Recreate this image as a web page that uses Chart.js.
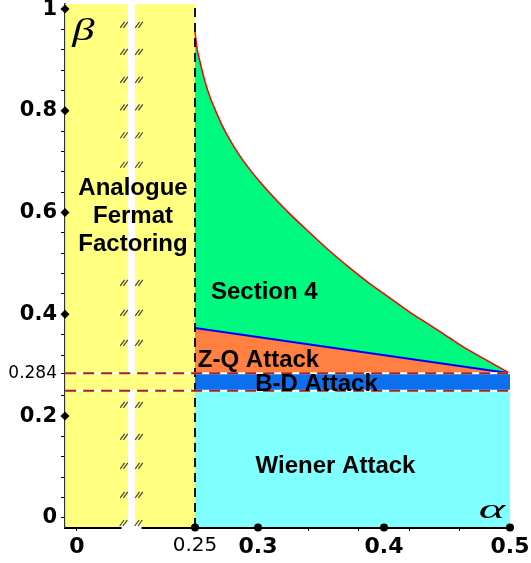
<!DOCTYPE html>
<html>
<head>
<meta charset="utf-8">
<script src="https://cdn.jsdelivr.net/npm/chart.js@4.4.0/dist/chart.umd.min.js"></script>
<style>
html,body{margin:0;padding:0;background:#fff;}
#caja{width:531px;height:563px;}
</style>
</head>
<body>
<div id="caja"><canvas id="grafica"></canvas></div>
<script>
// eje alfa partido: el tramo 0..0.25 va comprimido en la franja amarilla
let yTicksMain = [0, 0.2, 0.4, 0.6, 0.8, 1];
let yTickExtra = [0.284];
let xTicksMain = [0, 0.25, 0.3, 0.4, 0.5];
let xTicksMinor = [0.34, 0.38, 0.42, 0.46];

// frontera de la Section 4 (curva roja)
let curvaAlfa = [0.25, 0.2516, 0.254, 0.2579, 0.2619, 0.2667, 0.2722, 0.2786, 0.2857, 0.2937, 0.3016, 0.3095,
  0.3254, 0.3413, 0.3571, 0.373, 0.3889, 0.4048, 0.4206, 0.4365, 0.4524, 0.4683, 0.4841, 0.5];
let curvaBeta = [0.955, 0.923, 0.896, 0.858, 0.827, 0.798, 0.768, 0.739, 0.711, 0.684, 0.660, 0.638,
  0.597, 0.560, 0.524, 0.491, 0.460, 0.432, 0.404, 0.379, 0.353, 0.328, 0.306, 0.284];
// cota Z-Q (linea azul)
let zqAlfa = [0.25, 0.5];
let zqBeta = [0.373, 0.284];
let bdBeta = 0.284;
let wienerBeta = 0.25;
let ataqueAlfa = [0.25, 0.5];
let fermatAlfa = [-0.025, 0.25];
let lineasAlfa = [-0.025, 0.5];

let yMin = -0.018, yMax = 1.01;
let corte = 0.1155; // donde va el corte del eje
let marcasCorte = [0.969, 0.916, 0.861, 0.807, 0.752, 0.694, 0.462, 0.403, 0.344, 0.222, 0.159, 0.102, 0.045];

function toEje(a){
  return a >= 0.25 ? a : 0.1563 + a * 0.3748;
}
function puntos(xs, ys){
  return xs.map((a, i) => ({x: toEje(a), y: Array.isArray(ys) ? ys[i] : ys}));
}

let yTicksMinor = [];
for (let i = 1; i < 25; i++) {
  let v = Math.round(i * 4) / 100;
  if (i % 5 != 0 && v != 0.28) yTicksMinor.push(v);
}

function rayitas(ctx, x, y){
  ctx.beginPath();
  for (const d of [-1.6, 1.6]) {
    ctx.moveTo(x + d - 2.2, y + 3);
    ctx.lineTo(x + d + 2.2, y - 3);
  }
  ctx.stroke();
}

const extras = {
  id: 'extras',
  afterDatasetDraw(chart, args){
    if (args.index !== 9) return;
    const ctx = chart.ctx, a = chart.chartArea;
    const xs = chart.scales.x, ys = chart.scales.y;
    const xc = xs.getPixelForValue(toEje(corte));
    ctx.save();
    ctx.fillStyle = '#fff';
    ctx.fillRect(xc - 3.5, a.top, 7, ys.getPixelForValue(bdBeta) - a.top);
    ctx.fillRect(xc - 3.5, ys.getPixelForValue(wienerBeta), 7, a.bottom - ys.getPixelForValue(wienerBeta));
    ctx.strokeStyle = '#444';
    ctx.lineWidth = 1.2;
    marcasCorte.forEach(b => {
      const y = ys.getPixelForValue(b);
      rayitas(ctx, xc - 7.5, y);
      rayitas(ctx, xc + 7.5, y);
    });
    ctx.restore();
  },
  afterDraw(chart){
    const ctx = chart.ctx, a = chart.chartArea;
    const xs = chart.scales.x, ys = chart.scales.y;
    const X = v => xs.getPixelForValue(toEje(v));
    const Y = v => ys.getPixelForValue(v);
    ctx.save();
    // hueco del eje x
    const xc = X(corte);
    ctx.fillStyle = '#fff';
    ctx.fillRect(xc - 10, a.bottom - 3, 20, 7);
    ctx.strokeStyle = '#444';
    ctx.lineWidth = 1.2;
    rayitas(ctx, xc - 8, a.bottom - 4);
    rayitas(ctx, xc + 7, a.bottom - 4);
    // rombos del eje y
    ctx.fillStyle = '#000';
    yTicksMain.forEach(v => {
      if (v == 0) return;
      const y = Y(v), x = a.left;
      ctx.beginPath();
      ctx.moveTo(x - 4.5, y); ctx.lineTo(x, y - 4.5); ctx.lineTo(x + 4.5, y); ctx.lineTo(x, y + 4.5);
      ctx.closePath(); ctx.fill();
    });
    // puntos del eje x
    xTicksMain.forEach(v => {
      if (v == 0) return;
      ctx.beginPath();
      ctx.arc(X(v), a.bottom + 0.5, 4, 0, Math.PI * 2);
      ctx.fill();
    });
    // textos de las regiones
    ctx.textAlign = 'center';
    ctx.textBaseline = 'alphabetic';
    ctx.font = 'bold 24px "Liberation Sans", Arial, sans-serif';
    ctx.fillText('Analogue', X(0.1187), Y(0.635));
    ctx.fillText('Fermat', X(0.1187), Y(0.580));
    ctx.fillText('Factoring', X(0.1187), Y(0.525));
    ctx.fillText('Section 4', X(0.305), Y(0.430));
    ctx.fillText('Z-Q Attack', X(0.3004), Y(0.2967));
    ctx.fillText('B-D Attack', X(0.3464), Y(0.2495));
    ctx.fillText('Wiener Attack', X(0.3615), Y(0.0884));
    // letras griegas
    ctx.font = 'italic 32px "Liberation Serif", serif';
    ctx.save();
    ctx.translate(X(0.0138), Y(0.939));
    ctx.scale(1.4, 1);
    ctx.fillText('β', 0, 0);
    ctx.restore();
    ctx.font = 'italic 28px "Liberation Serif", serif';
    ctx.save();
    ctx.translate(X(0.4857), Y(0.0));
    ctx.scale(1.8, 1);
    ctx.fillText('α', 0, 0);
    ctx.restore();
    ctx.restore();
  }
};

let xTicksAll = xTicksMain.map(v => ({value: toEje(v), etiqueta: String(v)}))
  .concat(xTicksMinor.map(v => ({value: v, etiqueta: ''})));
let yTicksAll = yTicksMain.concat(yTickExtra, yTicksMinor).map(v => ({value: v}));

const fino = {pointRadius: 0, fill: false, tension: 0};

let ctx = document.getElementById('grafica').getContext('2d');
let chart = new Chart(ctx, {
  type: 'line',
  data: {
    datasets: [
      Object.assign({data: puntos(lineasAlfa, bdBeta), borderColor: '#a52020', borderWidth: 2, borderDash: [11, 7]}, fino),
      Object.assign({data: puntos(lineasAlfa, wienerBeta), borderColor: '#a52020', borderWidth: 2, borderDash: [11, 7]}, fino),
      Object.assign({data: puntos(lineasAlfa, bdBeta), borderColor: '#fff', borderWidth: 2}, fino),
      Object.assign({data: puntos(lineasAlfa, wienerBeta), borderColor: '#fff', borderWidth: 2}, fino),
      Object.assign({data: [{x: 0.25, y: yMin}, {x: 0.25, y: yMax}], borderColor: '#111', borderWidth: 2, borderDash: [9, 6]}, fino),
      {data: puntos(ataqueAlfa, wienerBeta), borderWidth: 0, pointRadius: 0, fill: 'start', backgroundColor: '#80ffff'},
      {data: puntos(ataqueAlfa, bdBeta), borderWidth: 0, pointRadius: 0, fill: 'start', backgroundColor: '#0a70f0'},
      {data: puntos(zqAlfa, zqBeta), borderColor: '#0000ff', borderWidth: 2, pointRadius: 0, fill: 'start', backgroundColor: '#ff8040'},
      {data: puntos(curvaAlfa, curvaBeta), borderColor: '#ff0000', borderWidth: 1.5, pointRadius: 0, fill: 'start', backgroundColor: '#00fa80', cubicInterpolationMode: 'monotone'},
      {data: puntos(fermatAlfa, yMax), borderWidth: 0, pointRadius: 0, fill: 'start', backgroundColor: '#ffff80'}
    ]
  },
  options: {
    responsive: true,
    maintainAspectRatio: false,
    animation: false,
    layout: {padding: {left: 0, right: 21, top: 4, bottom: 0}},
    plugins: {legend: {display: false}, tooltip: {enabled: false}},
    scales: {
      x: {
        type: 'linear', min: 0.1468, max: 0.5, z: 1,
        afterBuildTicks: s => { s.ticks = xTicksAll.map(t => Object.assign({}, t)); },
        afterFit: s => { s.height = 36; s.paddingLeft = 0; s.paddingRight = 0; },
        grid: {drawOnChartArea: false, tickLength: 4, color: '#000'},
        border: {color: '#000', width: 3},
        ticks: {
          autoSkip: false, maxRotation: 0, padding: 3, color: '#000',
          callback: (v, i, t) => t[i].etiqueta,
          font: c => (c.tick && c.tick.value === 0.25)
            ? {family: 'DejaVu Sans', size: 20, weight: 'normal'}
            : {family: 'DejaVu Sans', size: 22, weight: 'bold'}
        }
      },
      y: {
        type: 'linear', min: yMin, max: yMax, z: 1,
        afterBuildTicks: s => { s.ticks = yTicksAll.map(t => Object.assign({}, t)); },
        afterFit: s => { s.width = 65; s.paddingTop = 0; s.paddingBottom = 0; },
        grid: {drawOnChartArea: false, tickLength: 4, color: '#000'},
        border: {color: '#333', width: 1.5},
        ticks: {
          autoSkip: false, padding: 4, color: '#000',
          callback: v => (yTicksMain.includes(v) || yTickExtra.includes(v)) ? String(v) : '',
          font: c => (c.tick && c.tick.value === 0.284)
            ? {family: 'DejaVu Sans', size: 17, weight: 'normal'}
            : {family: 'DejaVu Sans', size: 21, weight: 'bold'}
        }
      }
    }
  },
  plugins: [extras]
});
</script>
</body>
</html>
